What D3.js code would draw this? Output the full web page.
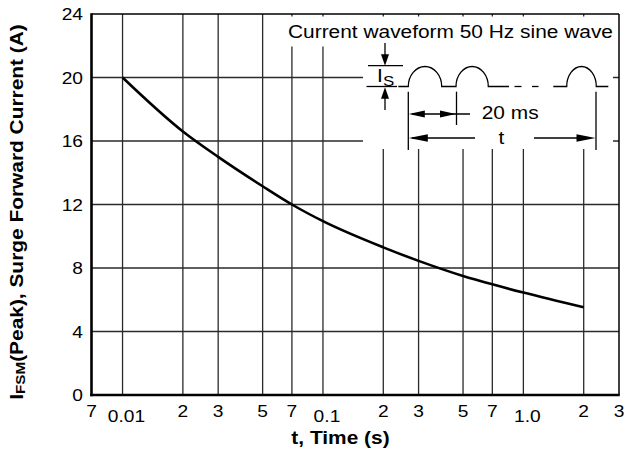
<!DOCTYPE html>
<html><head><meta charset="utf-8">
<script src="https://cdn.jsdelivr.net/npm/d3@7"></script>
<style>
body{margin:0;background:#fff}
svg{display:block}
text{font-family:"Liberation Sans",Arial,Helvetica,sans-serif;fill:#000}
</style>
</head><body>
<svg id="c" width="626" height="466"></svg>
<script>
// ---- data ----
const timeSec = [0.01, 0.02, 0.03, 0.05, 0.07, 0.1, 0.2, 0.3, 0.5, 0.7, 1, 2];
const surgeA  = [20, 16.6, 15.0, 13.15, 12.0, 10.95, 9.3, 8.45, 7.5, 6.97, 6.45, 5.52];
const xGridVals  = [0.01, 0.02, 0.03, 0.05, 0.07, 0.1, 0.2, 0.3, 0.5, 0.7, 1, 2];
const xTickVals  = [0.007, 0.01, 0.02, 0.03, 0.05, 0.07, 0.1, 0.2, 0.3, 0.5, 0.7, 1, 2, 3];
const xTickLabels = ["7", "0.01", "2", "3", "5", "7", "0.1", "2", "3", "5", "7", "1.0", "2", "3"];
const decadeLabels = ["0.01", "0.1", "1.0"];
const yTickVals = [0, 4, 8, 12, 16, 20, 24];
const xTitle = "t, Time (s)";
const insetTitle = "Current waveform 50 Hz sine wave";

(function () {
// ---- layout ----
const m = {left: 91.5, right: 619, top: 14, bottom: 395};
const K = 1.13; // horizontal text stretch of the reference
const svg = d3.select("#c");

const x = d3.scaleLog().domain([0.007, 3]).range([m.left, m.right]);
const y = d3.scaleLinear().domain([0, 24]).range([m.bottom, m.top]);

function stext(g, str, tx, ty, size, anchor, weight) {
  return g.append("text")
    .attr("transform", `translate(${tx},${ty}) scale(${K},1)`)
    .attr("text-anchor", anchor || "start")
    .attr("font-size", size)
    .attr("font-weight", weight || "normal")
    .text(str);
}

// ---- grid ----
const grid = svg.append("g").attr("stroke", "#2a2a2a").attr("stroke-width", 1.3);
grid.selectAll("line.v").data(xGridVals).join("line")
  .attr("x1", d => x(d)).attr("x2", d => x(d))
  .attr("y1", y(24)).attr("y2", y(0));
grid.selectAll("line.h").data(yTickVals.filter(v => v > 0 && v < 24)).join("line")
  .attr("x1", x(0.007)).attr("x2", x(3))
  .attr("y1", d => y(d)).attr("y2", d => y(d));

// white panels behind the inset annotation
svg.append("rect").attr("x", 286).attr("y", 16.5).attr("width", 332).attr("height", 30).attr("fill", "#fff");
svg.append("rect").attr("x", 363).attr("y", 46).attr("width", 250).attr("height", 103).attr("fill", "#fff");

// ---- frame ----
const frame = svg.append("g").attr("stroke", "#000").attr("fill", "none");
frame.append("line").attr("x1", x(0.007)).attr("x2", x(3)).attr("y1", y(24)).attr("y2", y(24)).attr("stroke-width", 1.5);
frame.append("line").attr("x1", x(3)).attr("x2", x(3)).attr("y1", y(24)).attr("y2", y(0)).attr("stroke-width", 1.5);
frame.append("line").attr("x1", x(0.007)).attr("x2", x(0.007)).attr("y1", y(24) - 0.75).attr("y2", y(0) + 1.25).attr("stroke-width", 2.6);
frame.append("line").attr("x1", x(0.007) - 1.3).attr("x2", x(3) + 0.75).attr("y1", y(0)).attr("y2", y(0)).attr("stroke-width", 2.6);

// ---- curve ----
const pts = timeSec.map((t, i) => ({t, v: surgeA[i]}));
svg.append("path").datum(pts)
  .attr("fill", "none").attr("stroke", "#000").attr("stroke-width", 2.6)
  .attr("d", d3.line().x(d => x(d.t)).y(d => y(d.v)).curve(d3.curveMonotoneX));

// ---- tick labels ----
const tl = svg.append("g");
yTickVals.forEach(v => stext(tl, String(v), 83, y(v) + 6, 17, "end"));
xTickVals.forEach((v, i) => {
  const lab = xTickLabels[i];
  const dec = decadeLabels.includes(lab);
  stext(tl, lab, x(v) + (dec ? 4 : 0), dec ? 421.5 : 416.5, 17, "middle");
});

// ---- axis titles ----
stext(svg, xTitle, 340.5, 444, 18.5, "middle", "bold");
const yt = svg.append("text")
  .attr("transform", `translate(23.3,212) rotate(-90) scale(${K},1)`)
  .attr("text-anchor", "middle").attr("font-size", 18.5).attr("font-weight", "bold");
yt.append("tspan").text("I");
yt.append("tspan").attr("font-size", 13.5).attr("dy", 2).text("FSM");
yt.append("tspan").attr("dy", -2).text("(Peak), Surge Forward Current (A)");

// ---- inset annotation ----
const ins = svg.append("g");
stext(ins, insetTitle, 288, 38.3, 18.5, "start");
const ink = ins.append("g").attr("stroke", "#000").attr("stroke-width", 1.3).attr("fill", "none");
const base = 86.5, humpTop = 66.5;
function tri(tipX, tipY, dir, len, hw) {
  let p;
  if (dir === "down") p = [[tipX, tipY], [tipX - hw, tipY - len], [tipX + hw, tipY - len]];
  if (dir === "up")   p = [[tipX, tipY], [tipX - hw, tipY + len], [tipX + hw, tipY + len]];
  if (dir === "left") p = [[tipX, tipY], [tipX + len, tipY - hw], [tipX + len, tipY + hw]];
  if (dir === "right")p = [[tipX, tipY], [tipX - len, tipY - hw], [tipX - len, tipY + hw]];
  ins.append("path").attr("d", "M" + p.map(q => q.join(",")).join("L") + "Z").attr("fill", "#000");
}
// Is marker
ink.append("line").attr("x1", 385).attr("x2", 385).attr("y1", 43).attr("y2", 60);
tri(385, 65.7, "down", 11.5, 4);
ink.append("line").attr("x1", 368).attr("x2", 403).attr("y1", 65.7).attr("y2", 65.7);
ink.append("line").attr("x1", 366.5).attr("x2", 397).attr("y1", base).attr("y2", base);
tri(385, base + 0.8, "up", 11.5, 4);
ink.append("line").attr("x1", 385).attr("x2", 385).attr("y1", 92).attr("y2", 110);
stext(ins, "I", 377, 81.7, 18.5, "start");
stext(ins, "S", 383, 86.2, 15, "start");
// waveform
const arc = (x0, x1) => `L${x0},${base}A${(x1 - x0) / 2},${base - humpTop} 0 0 1 ${x1},${base}`;
ink.append("path").attr("d", `M398.3,${base}` + arc(408.3, 441.7) + arc(456, 488.3) + `L509,${base}`);
ink.append("line").attr("x1", 514.5).attr("x2", 521.5).attr("y1", base).attr("y2", base);
ink.append("line").attr("x1", 532).attr("x2", 538.5).attr("y1", base).attr("y2", base);
ink.append("path").attr("d", `M553.3,${base}` + arc(566.7, 596.3) + `L608.3,${base}`);
// dimension bars
ink.append("line").attr("x1", 408.3).attr("x2", 408.3).attr("y1", 91.7).attr("y2", 150);
ink.append("line").attr("x1", 456.5).attr("x2", 456.5).attr("y1", 91.7).attr("y2", 125);
ink.append("line").attr("x1", 596).attr("x2", 596).attr("y1", 91.7).attr("y2", 150);
// 20 ms arrow
ink.append("line").attr("x1", 412).attr("x2", 470).attr("y1", 114).attr("y2", 114);
tri(408.8, 114, "left", 16, 3.6);
tri(456, 114, "right", 16, 3.6);
stext(ins, "20 ms", 481.7, 118.6, 18.5, "start");
// t arrow
ink.append("line").attr("x1", 412).attr("x2", 475).attr("y1", 138).attr("y2", 138);
ink.append("line").attr("x1", 534).attr("x2", 590).attr("y1", 138).attr("y2", 138);
tri(408.8, 138, "left", 19, 3.8);
tri(595.5, 138, "right", 19, 3.8);
stext(ins, "t", 501.5, 143.5, 18.5, "middle");
})();
</script>
</body></html>
